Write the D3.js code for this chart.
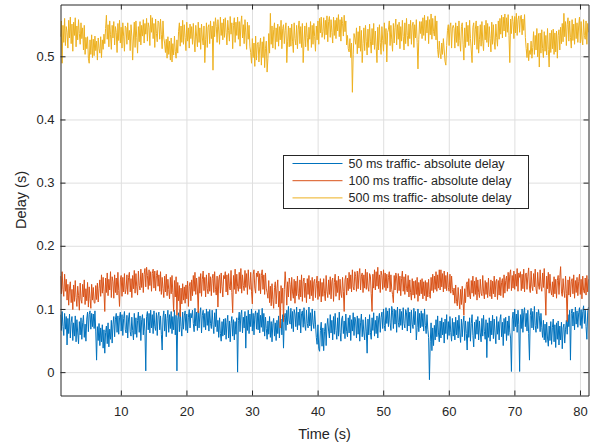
<!DOCTYPE html>
<html>
<head>
<meta charset="utf-8">
<script src="https://cdn.jsdelivr.net/npm/d3@7"></script>
<style>
  html, body { margin: 0; padding: 0; background: #fff; }
  svg { display: block; font-family: "Liberation Sans", Arial, Helvetica, sans-serif; }
</style>
</head>
<body>
<svg id="chart" width="600" height="445"></svg>
<script>
// Measured delays in milliseconds, one sample every 0.125 s starting at t = 0.8 s
// (each row holds 5 s of samples).
const delay50ms = [
  91,66,96,72,58,93,68,88, 43,85,61,92,54,79,88,50, 78,57,89,48,83,62,45,80, 59,86,52,78,90,55,76,49, 84,95,64,91,97,68,93,72,
  92,69,97,65,19,72,50,77, 42,70,48,75,38,67,30,63, 73,45,78,40,68,52,82,46, 76,88,56,84,93,63,89,60, 86,95,65,91,58,85,96,67,
  62,90,54,84,94,64,57,87, 66,51,93,60,86,55,82,95, 63,89,50,83,91,59,85,65, 2,88,96,67,93,62,98,70, 91,61,97,72,66,94,58,89,
  95,67,89,60,35,86,97,65, 92,56,85,98,63,91,69,96, 61,88,67,98,59,90,2,84, 94,64,99,72,57,95,68,89, 97,66,92,62,87,99,70,93,
  86,98,77,64,101,73,95,66, 97,70,92,102,62,90,98,71, 93,67,100,74,96,65,99,77, 69,98,75,61,94,72,100,64, 82,55,86,61,49,80,57,84,
  59,85,52,79,90,54,81,48, 77,88,57,83,51,80,60,86, 0,82,95,64,91,98,62,87, 70,96,38,89,66,98,61,92, 72,100,65,93,59,90,97,68,
  94,67,99,62,90,71,101,64, 93,57,87,69,52,81,60,88, 55,80,48,77,85,57,78,50, 82,61,89,54,79,84,59,91, 38,86,93,66,98,75,104,81,
  76,101,69,96,64,99,92,72, 103,67,95,74,100,62,93,97, 71,102,75,66,98,77,70,103, 73,94,65,100,78,69,97,76, 55,44,75,37,33,66,79,41,
  70,34,64,77,42,73,85,65, 54,91,62,82,51,88,60,93, 66,52,86,57,95,63,49,84, 89,61,81,53,92,64,56,86, 62,90,50,83,65,94,58,87,
  81,54,89,60,85,49,78,92, 56,83,62,51,87,65,30,84, 59,91,63,52,86,66,94,57, 82,61,89,54,84,93,63,86, 95,69,100,74,65,102,77,97,
  72,101,78,66,104,95,69,100, 76,98,63,103,79,71,100,74, 96,67,102,77,70,99,94,65, 102,73,95,62,98,76,69,101, 75,96,51,71,100,64,93,70,
  97,72,93,65,100,74,61,91, 68,55,-12,48,78,34,70,42, 74,51,83,56,89,62,48,81, 54,86,59,79,46,84,61,91, 52,80,58,88,63,49,85,57,
  79,51,87,59,82,54,90,62, 47,84,56,78,89,50,81,61, 35,80,55,86,49,77,91,58, 40,79,53,83,60,88,51,81, 62,48,85,57,90,64,52,83,
  23,78,55,86,49,81,59,90, 53,84,62,45,88,60,80,51, 83,91,56,79,42,85,61,87, 50,81,58,89,63,54,1,84, 95,65,100,72,92,63,98,75,
  1,91,69,100,63,94,102,72, 93,65,98,61,19,90,101,70, 96,67,104,74,63,95,69,99, 90,64,93,71,55,82,51,76, 47,79,54,41,73,50,80,44,
  71,84,48,75,39,78,52,81, 43,73,51,79,37,70,76,46, 68,82,60,91,72,98,19,93, 100,73,95,67,103,76,97,71, 94,102,74,99,69,96,105,77,
  98,72,52,95,103
];
const delay100ms = [
  152,124,159,131,120,155,128,147, 114,139,106,133,143,110,131,99, 138,112,145,118,104,136,121,98, 141,115,109,139,119,146,107,132, 113,142,103,135,117,101,139,114,
  134,110,109,137,115,141,111,132, 146,120,154,125,150,128,96,149, 126,157,121,147,130,159,118,151, 143,117,154,126,149,122,158,129, 104,146,153,120,150,127,156,124,
  131,154,123,150,158,127,148,118, 153,132,161,125,156,135,122,160, 137,130,163,134,157,126,155,164, 135,166,153,131,162,137,159,128, 156,163,133,160,129,153,161,136,
  154,128,159,123,150,132,118,152, 127,155,121,147,131,116,150,124, 153,126,96,145,119,151,90,142, 113,137,88,133,108,140,114,135, 109,138,116,144,104,136,142,113,
  146,121,153,128,158,123,149,130, 94,151,125,156,120,147,160,129, 150,119,154,132,124,157,128,151, 121,148,155,126,159,131,122,152, 103,146,154,125,157,135,119,153,
  148,159,127,154,122,156,135,130, 161,126,94,153,131,163,124,155, 136,128,158,132,164,125,154,137, 129,161,134,156,123,162,138,131, 158,128,108,154,162,133,125,157,
  151,160,129,156,124,153,162,131, 154,123,157,133,126,117,145,110, 136,105,140,115,101,134,143,108, 132,146,103,128,70,137,109,133, 80,131,159,138,106,143,119,149,
  139,113,150,127,117,147,109,144, 121,152,125,115,146,119,154,112, 143,149,118,141,110,148,123,153, 116,145,121,150,113,143,147,118, 140,152,115,144,120,148,111,142,
  120,148,125,113,153,128,118,146, 123,151,116,144,149,112,142,155, 120,145,126,152,114,147,124,118, 150,128,96,146,153,122,149,129, 158,132,154,127,162,135,130,159,
  151,128,160,132,155,164,130,152, 157,126,154,133,163,131,158,135, 128,156,152,124,96,155,133,162, 130,159,136,166,132,154,126,160, 153,131,162,134,157,129,155,133,
  150,159,127,154,131,123,110,153, 130,157,149,125,156,129,152,121, 148,160,128,151,123,155,132,127, 153,119,146,126,114,148,122,144, 117,145,123,150,112,142,121,146,
  124,148,116,143,121,145,113,142, 119,147,123,117,150,129,155,126, 152,131,159,128,154,133,162,130, 162,135,156,127,160,132,153,129, 158,134,128,155,125,152,131,122,
  133,109,138,112,105,134,114,100, 131,107,136,111,90,132,110,139, 143,119,148,122,116,145,125,152, 120,144,123,150,114,146,126,118, 147,125,121,153,127,116,145,123,
  142,118,149,123,120,146,116,144, 124,152,119,143,147,115,145,122, 150,121,142,148,118,154,125,145, 152,128,158,132,155,162,129,153, 133,160,131,155,136,164,128,157,
  150,159,129,155,132,163,127,154, 157,131,152,165,133,126,160,136, 129,156,135,163,132,124,158,138, 131,162,136,128,157,134,164,130, 90,152,132,158,125,155,130,122,
  143,119,151,124,147,117,145,153, 123,150,167,127,120,148,129,118, 152,125,80,146,122,151,119,143, 148,124,154,117,145,126,150,121, 143,155,123,147,116,152,129,125,
  149,122,153,127,147
];
const delay500ms = [
  531,556,489,549,522,560,517,547, 538,513,557,529,562,520,551,508, 554,533,561,515,548,526,558,536, 519,553,528,545,510,549,503,530, 512,531,497,489,526,503,534,498,
  527,501,532,509,524,494,529,512, 505,531,498,526,511,535,520,544, 565,527,550,515,556,534,511,549, 529,555,518,547,538,506,552,525, 557,521,546,513,553,532,508,548,
  545,519,553,526,541,509,550,532, 494,529,554,514,556,530,505,547, 523,555,518,549,532,558,521,552, 535,560,524,553,546,517,565,538, 561,528,552,514,559,536,523,556,
  553,527,559,534,512,556,529,521, 506,527,497,531,503,524,494,529, 491,520,502,532,508,497,526,505, 539,553,516,548,522,557,519,550, 530,509,554,524,545,513,551,528,
  547,519,552,526,507,549,532,515, 554,522,545,511,551,529,518,548, 490,526,553,514,546,550,520,556, 528,548,478,555,531,561,547,522, 558,540,519,562,533,553,526,559,
  530,561,538,518,557,541,524,563, 535,553,512,549,561,522,554,533, 562,527,555,516,551,564,529,550, 520,558,537,511,554,527,549,515, 506,489,528,498,521,484,532,494,
  519,522,491,516,529,486,523,498, 531,482,512,524,475,497,536,505, 568,519,548,513,542,553,511,545, 523,551,516,547,526,557,512,544, 550,520,541,553,490,524,548,515,
  545,516,551,524,506,553,528,518, 549,512,543,556,520,547,514,552, 490,524,548,515,553,530,509,546, 527,555,514,549,519,552,531,508, 548,526,556,519,560,537,562,530,
  539,561,527,557,534,564,523,555, 563,530,558,538,521,562,533,557, 528,561,540,566,531,558,524,562, 552,532,565,539,556,518,533,512, 507,528,498,521,443,503,536,529,
  519,545,504,539,513,548,508,541, 490,520,545,509,549,523,502,543, 514,551,524,505,544,518,552,511, 540,516,490,546,510,550,522,503, 547,525,508,553,519,544,491,538,
  543,556,517,549,526,508,552,521, 546,559,518,550,527,554,512,547, 524,557,531,510,553,520,560,533, 516,551,528,557,519,548,554,514, 550,529,558,522,480,527,555,536,
  555,528,561,533,565,525,557,537, 563,520,558,534,567,527,560,539, 532,564,526,556,511,498,524,505, 496,521,503,528,510,492,486,517, 541,550,517,547,553,513,545,549,
  544,513,553,522,548,516,556,525, 508,547,553,519,494,545,514,554, 523,549,517,557,528,510,490,546, 553,518,543,556,511,548,505,527, 550,516,555,524,509,549,526,557,
  522,552,515,547,528,507,554,519, 550,524,511,551,530,516,556,527, 560,535,565,529,562,540,567,531, 561,538,566,533,490,559,536,564, 555,528,563,537,568,533,558,564,
  538,563,565,534,559,541,566,530, 512,498,521,493,509,503,524,497, 514,539,503,533,510,544,499,536, 483,537,505,542,512,498,539,508, 533,502,544,511,483,537,506,541,
  512,543,503,537,507,540,497,533, 542,510,546,520,552,523,568,531, 555,517,550,561,524,556,530,513, 558,525,551,519,560,528,553,522, 548,562,521,555,527,518,558,533,
  527,556,519,552,538
];
const sampleStart = 0.8;    // s
const sampleStep = 0.125;   // s

const seriesNames = [
  "50 ms traffic- absolute delay",
  "100 ms traffic- absolute delay",
  "500 ms traffic- absolute delay"
];
const xTicks = [10, 20, 30, 40, 50, 60, 70, 80];
const yTicks = [0, 0.1, 0.2, 0.3, 0.4, 0.5];
const xLabel = "Time (s)";
const yLabel = "Delay (s)";

// ---- drawing ----
const colors = ["#0072BD", "#D95319", "#EDB120"];
const textColor = "#262626";
const gridColor = "#dfdfdf";

const plot = { left: 60.5, right: 588.5, top: 4.5, bottom: 395.5 };
const svg = d3.select("#chart");
svg.append("rect").attr("width", 600).attr("height", 445).attr("fill", "#fff");

const x = d3.scaleLinear().domain([0.8, 81.3]).range([plot.left, plot.right]);
const y = d3.scaleLinear().domain([-0.037, 0.582]).range([plot.bottom, plot.top]);

const width = plot.right - plot.left;
const height = plot.bottom - plot.top;

// grid
svg.append("g")
  .attr("transform", `translate(0,${plot.bottom})`)
  .call(d3.axisBottom(x).tickValues(xTicks).tickSize(-height).tickFormat(""))
  .call(g => g.select(".domain").remove())
  .call(g => g.selectAll("line").attr("stroke", gridColor).attr("stroke-width", 1));
svg.append("g")
  .attr("transform", `translate(${plot.left},0)`)
  .call(d3.axisLeft(y).tickValues(yTicks).tickSize(-width).tickFormat(""))
  .call(g => g.select(".domain").remove())
  .call(g => g.selectAll("line").attr("stroke", gridColor).attr("stroke-width", 1));

// data lines
svg.append("clipPath").attr("id", "plotClip")
  .append("rect")
  .attr("x", plot.left).attr("y", plot.top)
  .attr("width", width).attr("height", height);

const seriesData = [delay50ms, delay100ms, delay500ms];
const line = d3.line()
  .x((d, i) => x(sampleStart + i * sampleStep))
  .y(d => y(d / 1000));

const lines = svg.append("g").attr("clip-path", "url(#plotClip)");
seriesData.forEach((vals, k) => {
  lines.append("path")
    .datum(vals)
    .attr("fill", "none")
    .attr("stroke", colors[k])
    .attr("stroke-width", 1)
    .attr("stroke-linejoin", "round")
    .attr("d", line);
});

// axes with inward ticks on all four sides
function styleAxis(g) {
  g.select(".domain").attr("stroke", textColor).attr("stroke-width", 1);
  g.selectAll(".tick line").attr("stroke", textColor).attr("stroke-width", 1);
  g.selectAll(".tick text").attr("fill", textColor).attr("font-size", 13)
    .attr("font-family", "'Liberation Sans', Arial, sans-serif");
}
svg.append("g")
  .attr("transform", `translate(0,${plot.bottom})`)
  .call(d3.axisBottom(x).tickValues(xTicks).tickSizeInner(-5).tickSizeOuter(0).tickPadding(11))
  .call(styleAxis);
svg.append("g")
  .attr("transform", `translate(${plot.left},0)`)
  .call(d3.axisLeft(y).tickValues(yTicks).tickSizeInner(-5).tickSizeOuter(0).tickPadding(6)
    .tickFormat(d => d === 0 ? "0" : d3.format(".1f")(d)))
  .call(styleAxis);
svg.append("g")
  .attr("transform", `translate(0,${plot.top})`)
  .call(d3.axisTop(x).tickValues(xTicks).tickSizeInner(-5).tickSizeOuter(0).tickFormat(""))
  .call(styleAxis);
svg.append("g")
  .attr("transform", `translate(${plot.right},0)`)
  .call(d3.axisRight(y).tickValues(yTicks).tickSizeInner(-5).tickSizeOuter(0).tickFormat(""))
  .call(styleAxis);

// axis labels
svg.append("text")
  .attr("x", (plot.left + plot.right) / 2).attr("y", 438.5)
  .attr("text-anchor", "middle").attr("font-size", 14.5).attr("fill", textColor)
  .text(xLabel);
svg.append("text")
  .attr("transform", `translate(26,${(plot.top + plot.bottom) / 2}) rotate(-90)`)
  .attr("text-anchor", "middle").attr("font-size", 14.5).attr("fill", textColor)
  .text(yLabel);

// legend
const legend = svg.append("g").attr("transform", "translate(283.5,155.5)");
legend.append("rect")
  .attr("width", 245).attr("height", 53)
  .attr("fill", "#fff").attr("stroke", textColor).attr("stroke-width", 1);
seriesNames.forEach((name, k) => {
  const rowY = 8 + k * 17.2;
  legend.append("line")
    .attr("x1", 9).attr("x2", 59).attr("y1", rowY).attr("y2", rowY)
    .attr("stroke", colors[k]).attr("stroke-width", 1);
  legend.append("text")
    .attr("x", 65).attr("y", rowY + 4.5)
    .attr("font-size", 12.5).attr("fill", textColor)
    .text(name);
});
</script>
</body>
</html>
